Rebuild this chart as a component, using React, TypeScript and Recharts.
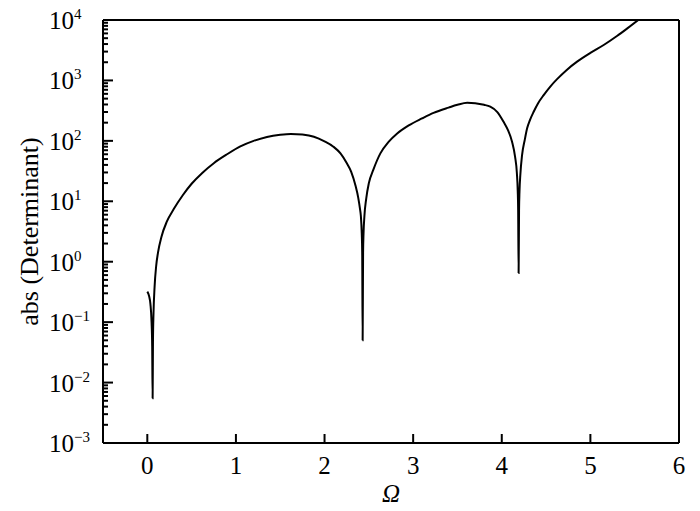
import React from 'react';
import { LineChart, Line, XAxis, YAxis, ReferenceLine } from 'recharts';

// frequency values and |det|
const omega = [
  0.0, 0.02, 0.035, 0.048, 0.055, 0.06, 0.064, 0.07, 0.082, 0.1, 0.12, 0.16, 0.22, 0.3, 0.4, 0.5,
  0.62, 0.75, 0.9, 1.05, 1.2, 1.35, 1.5, 1.62, 1.75, 1.88, 2.0, 2.1, 2.18, 2.25, 2.3, 2.35, 2.38,
  2.4, 2.41, 2.42, 2.425, 2.43, 2.435, 2.44, 2.45, 2.47, 2.5, 2.55, 2.63, 2.72, 2.82, 2.95, 3.1,
  3.23, 3.4, 3.5, 3.61, 3.7, 3.8, 3.87, 3.95, 4.02, 4.07, 4.116, 4.15, 4.17, 4.18, 4.185, 4.19,
  4.195, 4.2, 4.21, 4.229, 4.26, 4.286, 4.32, 4.36, 4.41, 4.473, 4.55, 4.624, 4.73, 4.85, 5.0,
  5.15, 5.3, 5.42, 5.54,
];
const absDet = [
  0.32, 0.27, 0.2, 0.1, 0.04, 0.0055, 0.05, 0.14, 0.38, 0.85, 1.4, 2.6, 4.6, 7.5, 12.6, 19.5,
  29.5, 42.7, 60, 81, 100, 116, 126, 130, 127, 117, 98, 80, 62, 43, 31, 18, 11.5,
  7.5, 5.7, 2.9, 1.4, 0.05, 1.4, 2.9, 5.7, 11, 20, 33, 62, 95, 132, 180, 235,
  290, 355, 395, 427, 420, 395, 367, 300, 207, 150, 97, 55, 30, 15, 7, 0.65,
  7, 14.4, 28, 58, 105, 161, 225, 303, 420, 573, 800, 1050, 1480, 2043, 2850,
  3855, 5430, 7330, 10000,
];

const xTicks = [0, 1, 2, 3, 4, 5, 6];
const decades = [-3, -2, -1, 0, 1, 2, 3, 4];
// majors plus 2..9 minors per decade
const yTicks: number[] = [];
decades.forEach((d) => {
  yTicks.push(Math.pow(10, d));
  if (d < 4) for (let m = 2; m <= 9; m++) yTicks.push(m * Math.pow(10, d));
});

const data = omega.map((w, i) => ({ w, det: absDet[i] }));

const FONT = '"Liberation Serif", "Times New Roman", serif';

const YTick = (props: any) => {
  const x = Number(props.x);
  const y = Number(props.y);
  const lg = Math.log10(props.payload.value);
  const e = Math.round(lg);
  const major = Math.abs(lg - e) < 1e-6;
  return (
    <g>
      <line x1={x} x2={x + (major ? 10 : 5)} y1={y} y2={y} stroke="#000" strokeWidth={2} />
      {major && (
        <text x={x - 54} y={y + 9} fontSize={25} fontFamily={FONT} fill="#000">
          10
          <tspan dy={-10} fontSize={15}>
            {e < 0 ? '\u2212' + -e : String(e)}
          </tspan>
        </text>
      )}
    </g>
  );
};

const XTick = (props: any) => {
  const x = Number(props.x);
  const y = Number(props.y);
  return (
    <g>
      <line x1={x} x2={x} y1={y} y2={y - 9} stroke="#000" strokeWidth={2} />
      <text x={x} y={y + 31} textAnchor="middle" fontSize={25} fontFamily={FONT} fill="#000">
        {props.payload.value}
      </text>
    </g>
  );
};

const YLabel = (props: any) => {
  const vb = props.viewBox || {};
  const cy = vb.height ? vb.y + vb.height / 2 : 231;
  return (
    <text
      x={29}
      y={cy}
      transform={`rotate(-90, 29, ${cy})`}
      textAnchor="middle"
      dominantBaseline="central"
      fontSize={26}
      fontFamily={FONT}
      fill="#000"
    >
      abs (Determinant)
    </text>
  );
};

const XLabel = (props: any) => {
  const vb = props.viewBox || {};
  const cx = vb.width ? vb.x + vb.width / 2 : 391;
  return (
    <text x={cx} y={502} textAnchor="middle" fontSize={25} fontStyle="italic" fontFamily={FONT} fill="#000">
      Ω
    </text>
  );
};

const axisStroke = { stroke: '#000', strokeWidth: 2 };

export default function App() {
  return (
    <div style={{ position: 'absolute', left: 0, top: 0, background: '#fff' }}>
      <LineChart width={700} height={511} data={data} margin={{ top: 20, right: 21, bottom: 0, left: 0 }}>
        <XAxis
          xAxisId="x"
          dataKey="w"
          type="number"
          domain={[-0.5, 6]}
          ticks={xTicks}
          interval={0}
          height={68}
          tickSize={0}
          tickMargin={0}
          tickLine={false}
          axisLine={axisStroke}
          tick={<XTick />}
          label={{ content: <XLabel /> }}
        />
        <YAxis
          yAxisId="y"
          scale="log"
          type="number"
          domain={[0.001, 10000]}
          allowDataOverflow
          ticks={yTicks}
          interval={0}
          width={103}
          tickSize={0}
          tickMargin={0}
          tickLine={false}
          axisLine={axisStroke}
          tick={<YTick />}
          label={{ content: <YLabel /> }}
        />
        <ReferenceLine xAxisId="x" yAxisId="y" y={10000} stroke="#000" strokeWidth={2} />
        <ReferenceLine xAxisId="x" yAxisId="y" x={6} stroke="#000" strokeWidth={2} />
        <Line
          xAxisId="x"
          yAxisId="y"
          type="monotone"
          dataKey="det"
          stroke="#000"
          strokeWidth={2}
          dot={false}
          isAnimationActive={false}
        />
      </LineChart>
    </div>
  );
}
